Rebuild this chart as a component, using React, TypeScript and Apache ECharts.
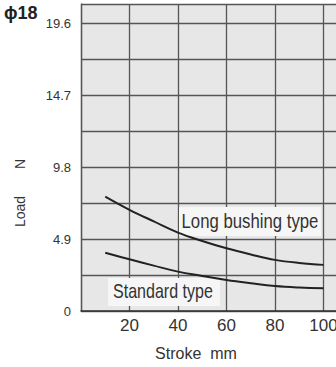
import React, { useEffect, useRef } from "react";
import * as echarts from "echarts";

const strokeMm = [10, 20, 30, 40, 50, 60, 70, 80, 90, 100];
const longBushingLoad = [7.79, 6.89, 6.1, 5.34, 4.77, 4.27, 3.85, 3.48, 3.27, 3.14];
const standardLoad = [3.97, 3.52, 3.09, 2.68, 2.39, 2.11, 1.89, 1.7, 1.6, 1.55];
const xTickLabels = [20, 40, 60, 80, 100];
const yTickLabels = ["0", "4.9", "9.8", "14.7", "19.6"];

const FONT = "'Liberation Sans', Arial, sans-serif";

export default function App() {
  const ref = useRef<HTMLDivElement>(null);
  useEffect(() => {
    if (!ref.current) return;
    const chart = echarts.init(ref.current, undefined, { renderer: "svg" });
    chart.setOption({
      animation: false,
      grid: {
        left: 81,
        top: 4,
        width: 291,
        height: 307,
        show: true,
        backgroundColor: "#e7e7e7",
        borderWidth: 0,
      },
      xAxis: {
        type: "value",
        min: 0,
        max: 120,
        interval: 20,
        axisLine: { show: true, onZero: false, lineStyle: { color: "#333", width: 1.5 } },
        axisTick: { show: false },
        splitLine: { show: true, lineStyle: { color: "#555", width: 1.3 } },
        axisLabel: {
          color: "#333",
          fontSize: 17,
          fontFamily: FONT,
          margin: 6,
          formatter: (v: number) => (xTickLabels.includes(v) ? String(v) : ""),
        },
      },
      yAxis: {
        type: "value",
        min: 0,
        max: 20.9,
        interval: 2.45,
        axisLine: { show: true, onZero: false, lineStyle: { color: "#555", width: 1.3 } },
        axisTick: { show: false },
        splitLine: { show: true, lineStyle: { color: "#555", width: 1.3 } },
        axisLabel: {
          color: "#333",
          fontSize: 13,
          fontFamily: FONT,
          margin: 10,
          showMaxLabel: false,
          formatter: (v: number) => {
            const s = Number(v.toFixed(2)).toString();
            return yTickLabels.includes(s) ? s : "";
          },
        },
      },
      series: [
        {
          name: "Long bushing type",
          type: "line",
          smooth: 0.4,
          showSymbol: false,
          lineStyle: { color: "#222", width: 2 },
          data: strokeMm.map((x, i) => [x, longBushingLoad[i]]),
          z: 5,
        },
        {
          name: "Standard type",
          type: "line",
          smooth: 0.4,
          showSymbol: false,
          lineStyle: { color: "#222", width: 2 },
          data: strokeMm.map((x, i) => [x, standardLoad[i]]),
          z: 5,
        },
      ],
      graphic: [
        { type: "rect", z: 1, shape: { x: 179, y: 207, width: 142, height: 29 }, style: { fill: "#f6f6f6" } },
        { type: "rect", z: 1, shape: { x: 108, y: 278, width: 112, height: 28 }, style: { fill: "#f6f6f6" } },
        {
          type: "text",
          z: 6,
          x: 181.5,
          y: 221,
          scaleX: 0.838,
          style: { text: "Long bushing type", fill: "#333", font: `20px ${FONT}`, textAlign: "left", textVerticalAlign: "middle" },
        },
        {
          type: "text",
          z: 6,
          x: 113,
          y: 291.5,
          scaleX: 0.803,
          style: { text: "Standard type", fill: "#333", font: `20px ${FONT}`, textAlign: "left", textVerticalAlign: "middle" },
        },
        {
          type: "text",
          z: 6,
          x: 4,
          y: 12.5,
          style: { text: "ϕ18", fill: "#222", font: `bold 18px ${FONT}`, textAlign: "left", textVerticalAlign: "middle" },
        },
        {
          type: "text",
          z: 6,
          x: 196,
          y: 353.5,
          style: { text: "Stroke  mm", fill: "#333", font: `16px ${FONT}`, textAlign: "center", textVerticalAlign: "middle" },
        },
        {
          type: "text",
          z: 6,
          x: 20,
          y: 211.5,
          rotation: Math.PI / 2,
          style: { text: "Load", fill: "#333", font: `14px ${FONT}`, textAlign: "center", textVerticalAlign: "middle" },
        },
        {
          type: "text",
          z: 6,
          x: 20,
          y: 164,
          rotation: Math.PI / 2,
          style: { text: "N", fill: "#333", font: `14px ${FONT}`, textAlign: "center", textVerticalAlign: "middle" },
        },
      ],
    });
    return () => chart.dispose();
  }, []);
  return (
    <div style={{ position: "fixed", left: 0, top: 0, width: 336, height: 367, overflow: "hidden", background: "#fff" }}>
      <div ref={ref} style={{ width: 400, height: 367 }} />
    </div>
  );
}
